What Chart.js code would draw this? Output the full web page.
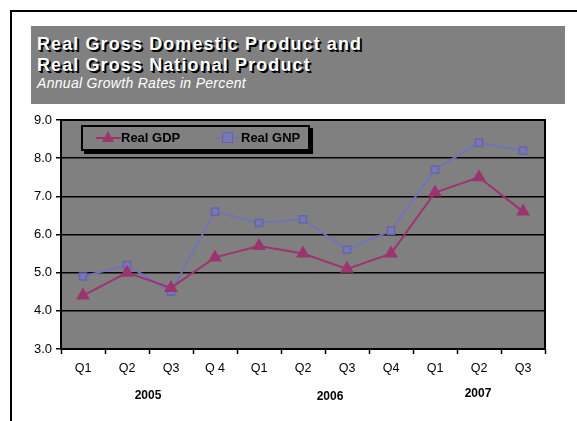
<!DOCTYPE html>
<html><head><meta charset="utf-8">
<script src="https://cdn.jsdelivr.net/npm/chart.js@4"></script>
<style>
html,body{margin:0;padding:0;background:#fff;}
#wrap{position:relative;width:577px;height:421px;overflow:hidden;font-family:Arial,"Liberation Sans",sans-serif;}
#c{position:absolute;left:0;top:0;}
#frame{position:absolute;left:10px;top:10px;width:700px;height:600px;border-left:2px solid #000;border-top:2px solid #000;}
#tbox{position:absolute;left:31px;top:26px;width:534px;height:78px;background:#808080;}
.tt{position:absolute;left:6px;color:#fff;font-weight:bold;font-size:18px;line-height:18px;letter-spacing:1.1px;white-space:nowrap;text-shadow:1px 1px 0 #000,2px 2px 0 #000;}
.sub{position:absolute;left:6px;top:50px;color:#fff;font-style:italic;font-size:14px;line-height:15px;letter-spacing:0.3px;white-space:nowrap;}
#legend{position:absolute;left:81px;top:125px;width:225px;height:22px;border:2px solid #000;box-shadow:3px 3px 0 #000;}
.li{position:absolute;top:0;height:22px;font-weight:bold;font-size:13px;line-height:22px;color:#000;white-space:nowrap;}
.yr{position:absolute;font-weight:bold;font-size:12px;line-height:12px;color:#000;transform:translateX(-50%);}
</style></head>
<body><div id="wrap">
<div id="frame"></div>
<div id="tbox">
<div class="tt" style="top:9px">Real Gross Domestic Product and</div>
<div class="tt" style="top:30px">Real Gross National Product</div>
<div class="sub">Annual Growth Rates in Percent</div>
</div>
<canvas id="c" width="577" height="421"></canvas>
<div id="legend"></div>
<div id="years"></div>
</div>
<script>
const quarters = ['Q1','Q2','Q3','Q 4','Q1','Q2','Q3','Q4','Q1','Q2','Q3'];
const years = ['2005','2006','2007'];
const seriesNames = ['Real GDP','Real GNP'];
const realGDP = [4.4,5.0,4.6,5.4,5.7,5.5,5.1,5.5,7.1,7.5,6.6];
const realGNP = [4.9,5.2,4.5,6.6,6.3,6.4,5.6,6.1,7.7,8.4,8.2];
const yMin = 3, yMax = 9, yStep = 1;

const gdpColor = '#9C3470', gnpColor = '#7272B6';

const areaPlugin = {
  id:'area',
  beforeDraw(chart){
    const a = chart.chartArea, ctx = chart.ctx;
    ctx.save(); ctx.fillStyle='#808080';
    ctx.fillRect(a.left,a.top,a.right-a.left,a.bottom-a.top); ctx.restore();
  },
  afterDatasetsDraw(chart){
    const a = chart.chartArea, ctx = chart.ctx;
    ctx.save(); ctx.strokeStyle='#000'; ctx.lineWidth=2;
    ctx.strokeRect(a.left,a.top,a.right-a.left,a.bottom-a.top); ctx.restore();
  }
};

const chart = new Chart(document.getElementById('c'), {
  type:'line',
  data:{labels:quarters, datasets:[
    {label:seriesNames[0], data:realGDP, borderColor:gdpColor, backgroundColor:gdpColor, borderWidth:2,
     pointStyle:'triangle', pointRadius:6, pointHoverRadius:6, tension:0},
    {label:seriesNames[1], data:realGNP, borderColor:gnpColor, backgroundColor:'#7878B8', pointBorderColor:'#6464A8', borderWidth:2,
     pointStyle:'rect', pointRadius:5, pointHoverRadius:5, pointBorderWidth:1.5, tension:0}
  ]},
  options:{
    responsive:false, animation:false, events:[],
    layout:{padding:{left:0,right:32,top:120,bottom:0}},
    plugins:{legend:{display:false}, title:{display:false}, tooltip:{enabled:false}},
    scales:{
      x:{offset:true,
        grid:{offset:true, drawOnChartArea:false, drawTicks:true, tickLength:5, tickColor:'#000', tickWidth:1.5, color:'#000'},
        border:{display:false},
        ticks:{color:'#000', font:{family:'Arial, "Liberation Sans", sans-serif', size:12.5}, padding:7, maxRotation:0, autoSkip:false},
        afterFit(s){ s.height = 72; }
      },
      y:{min:yMin, max:yMax,
        grid:{color:'#000', lineWidth:1.5, borderDash:[2,2], tickBorderDash:[], tickColor:'#000', tickWidth:1.5, tickLength:5},
        border:{display:false},
        ticks:{stepSize:yStep, color:'#000', padding:4, font:{family:'Arial, "Liberation Sans", sans-serif', size:13},
          callback:v=>Number(v).toFixed(1)},
        afterFit(s){ s.width = 61; }
      }
    }
  },
  plugins:[areaPlugin]
});

// legend
const legend = document.getElementById('legend');
const legendLayout = [{x:13, tx:38}, {x:132, tx:158}];
chart.data.datasets.forEach((ds,i)=>{
  const L = legendLayout[i];
  const line = document.createElement('div');
  line.style.cssText = `position:absolute;left:${L.x}px;top:10px;width:25px;height:2px;background:${ds.borderColor};`;
  legend.appendChild(line);
  const m = document.createElement('div');
  if (ds.pointStyle==='triangle'){
    m.style.cssText = `position:absolute;left:${L.x+6}px;top:4px;width:0;height:0;border-left:6px solid transparent;border-right:6px solid transparent;border-bottom:11px solid ${ds.borderColor};`;
  } else {
    m.style.cssText = `position:absolute;left:${L.x+7}px;top:5px;width:9px;height:9px;background:${ds.backgroundColor};border:1px solid ${ds.pointBorderColor};`;
  }
  legend.appendChild(m);
  const t = document.createElement('div');
  t.className='li'; t.style.left=L.tx+'px'; t.textContent=ds.label;
  legend.appendChild(t);
});

// year labels
const yearBox = document.getElementById('years');
const yearPos = [[148,389],[330,390],[478,387]];
years.forEach((y,i)=>{
  const d=document.createElement('div'); d.className='yr';
  d.style.left=yearPos[i][0]+'px'; d.style.top=yearPos[i][1]+'px'; d.textContent=y;
  yearBox.appendChild(d);
});
</script>
</body></html>
